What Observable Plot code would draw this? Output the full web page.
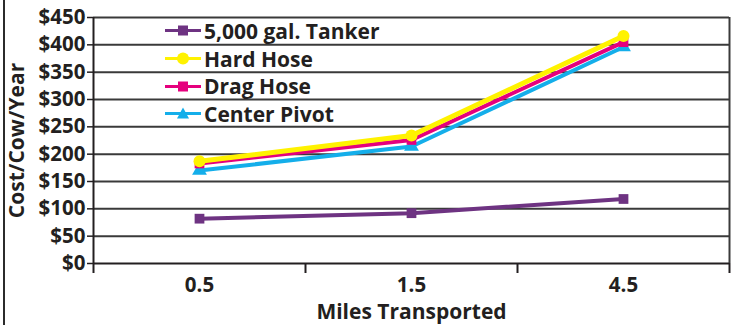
<!DOCTYPE html>
<html>
<head>
<meta charset="utf-8">
<script src="https://cdn.jsdelivr.net/npm/d3@7"></script>
<script src="https://cdn.jsdelivr.net/npm/@observablehq/plot@0.6"></script>
<style>
  html, body { margin: 0; padding: 0; background: #fff; overflow: hidden; }
  #wrap { position: relative; width: 731px; height: 325px; }
  #edge { position: absolute; left: 3px; top: 0; width: 2px; height: 325px; background: #2b2b2b; }
  #legend { position: absolute; left: 165px; top: 17px; font-family: "Open Sans", sans-serif; font-weight: 700; font-size: 21px; color: #231f20; }
  .row { display: flex; align-items: center; height: 27.7px; }
  .row svg { margin-right: 3px; }
</style>
</head>
<body>
<div id="wrap"><div id="edge"></div><div id="legend"></div></div>
<script>
const xLabels = ["0.5", "1.5", "4.5"];
const seriesNames = ["5,000 gal. Tanker", "Hard Hose", "Drag Hose", "Center Pivot"];
const tanker = [82, 92, 118];
const hardHose = [187, 234, 416];
const dragHose = [183, 226, 405];
const centerPivot = [170, 214, 396];
const yTicks = [0, 50, 100, 150, 200, 250, 300, 350, 400, 450];
const xTitle = "Miles Transported";
const yTitle = "Cost/Cow/Year";

const colors = ["#6e3382", "#fff200", "#e5007d", "#14aeea"];
const symbols = ["square", "circle", "square", "triangle"];
const valuesBySeries = [tanker, hardHose, dragHose, centerPivot];

const rows = [];
valuesBySeries.forEach((vals, s) => vals.forEach((v, i) => rows.push({series: seriesNames[s], x: i + 0.5, value: v})));
// draw order: tanker, center pivot, drag hose, hard hose (yellow on top)
const order = [0, 3, 2, 1];

const marks = [
  Plot.ruleY(yTicks.slice(1), {stroke: "#3a3a3a", strokeWidth: 2}),
  Plot.ruleX([3], {stroke: "#3a3a3a", strokeWidth: 2}),
  Plot.ruleY([0], {stroke: "#231f20", strokeWidth: 2}),
  Plot.ruleX([0], {stroke: "#231f20", strokeWidth: 2}),
  Plot.axisY({ticks: yTicks, tickFormat: d => "$" + d, label: null, tickSize: 6, tickPadding: 2, stroke: "#231f20", strokeWidth: 1.5, fill: "#231f20"}),
  Plot.axisX({ticks: [0, 1, 2, 3], tickFormat: () => "", label: null, tickSize: 10, stroke: "#231f20", strokeWidth: 2}),
  Plot.axisX({ticks: [0.5, 1.5, 2.5], tickFormat: d => xLabels[Math.floor(d)], label: null, tickSize: 0, tickPadding: 14, fill: "#231f20"}),
  Plot.text([yTitle], {frameAnchor: "left", textAnchor: "middle", lineAnchor: "middle", rotate: -90, dx: -76, fill: "#231f20", fontSize: 21}),
  Plot.text([xTitle], {frameAnchor: "bottom", lineAnchor: "middle", dy: 49, fill: "#231f20", fontSize: 21})
];
for (const s of order) {
  const data = rows.filter(d => d.series === seriesNames[s]);
  marks.push(Plot.line(data, {x: "x", y: "value", stroke: colors[s], strokeWidth: s === 1 ? 5 : 4, curve: "linear"}));
  marks.push(Plot.dot(data, {x: "x", y: "value", symbol: symbols[s], fill: colors[s], r: s === 1 ? 6 : 5.5, stroke: "none"}));
}

const chart = Plot.plot({
  width: 731,
  height: 325,
  marginLeft: 93,
  marginRight: 2,
  marginTop: 17,
  marginBottom: 62,
  style: {fontFamily: "'Open Sans', sans-serif", fontWeight: "700", fontSize: "20.5px", background: "transparent", color: "#231f20"},
  x: {type: "linear", domain: [0, 3], axis: null},
  y: {domain: [0, 450], axis: null},
  marks
});
document.getElementById("wrap").prepend(chart);

const legend = document.getElementById("legend");
const symPath = {
  square: '<rect x="13" y="2.5" width="10" height="10"/>',
  circle: '<circle cx="18" cy="7.5" r="6"/>',
  triangle: '<path d="M18 1.5 L24 12.5 L12 12.5 Z"/>'
};
seriesNames.forEach((name, s) => {
  const row = document.createElement("div");
  row.className = "row";
  row.innerHTML = `<svg width="36" height="15"><line x1="0" x2="36" y1="7.5" y2="7.5" stroke="${colors[s]}" stroke-width="3"/><g fill="${colors[s]}">${symPath[symbols[s]]}</g></svg><span>${name}</span>`;
  legend.appendChild(row);
});
</script>
</body>
</html>
